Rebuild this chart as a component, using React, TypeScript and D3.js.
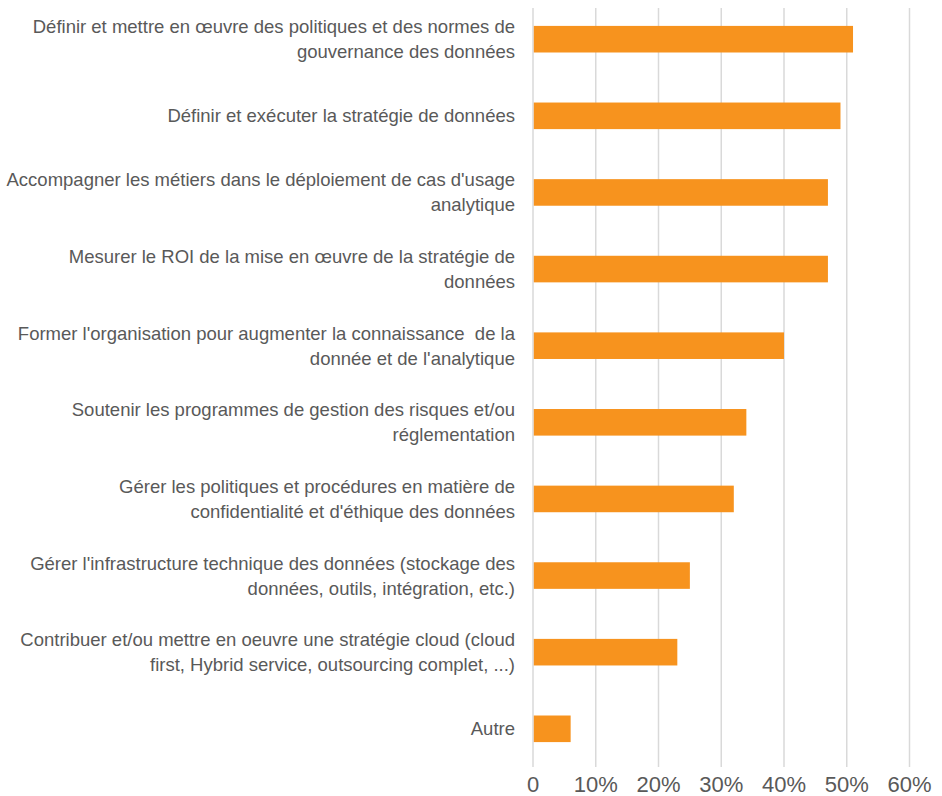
import React from "react";
import * as d3 from "d3";

const categories: string[][] = [
  ["Définir et mettre en œuvre des politiques et des normes de", "gouvernance des données"],
  ["Définir et exécuter la stratégie de données"],
  ["Accompagner les métiers dans le déploiement de cas d'usage", "analytique"],
  ["Mesurer le ROI de la mise en œuvre de la stratégie de", "données"],
  ["Former l'organisation pour augmenter la connaissance  de la", "donnée et de l'analytique"],
  ["Soutenir les programmes de gestion des risques et/ou", "réglementation"],
  ["Gérer les politiques et procédures en matière de", "confidentialité et d'éthique des données"],
  ["Gérer l'infrastructure technique des données (stockage des", "données, outils, intégration, etc.)"],
  ["Contribuer et/ou mettre en oeuvre une stratégie cloud (cloud", "first, Hybrid service, outsourcing complet, ...)"],
  ["Autre"],
];
const values: number[] = [0.51, 0.49, 0.47, 0.47, 0.40, 0.34, 0.32, 0.25, 0.23, 0.06];
const ticks: number[] = [0, 0.1, 0.2, 0.3, 0.4, 0.5, 0.6];
const tickLabels: string[] = ["0", "10%", "20%", "30%", "40%", "50%", "60%"];

const W = 942;
const H = 796;
const FONT = "'Liberation Sans', Arial, Helvetica, sans-serif";
const TEXT = "#595959";

export default function App() {
  const keys = categories.map((_, i) => String(i));
  const x = d3.scaleLinear().domain([0, 0.6]).range([533, 909.5]);
  const y = d3.scaleBand<string>().domain(keys).range([1, 767]).paddingInner(0.653).paddingOuter(0.325);
  const bw = y.bandwidth();
  const lineH = 25;

  return (
    <div style={{ position: "absolute", left: 0, top: 0 }}>
      <svg width={W} height={H} style={{ display: "block" }} fontFamily={FONT}>
        <rect width={W} height={H} fill="#fff" />
        {ticks.map((t, i) => (
          <line key={"g" + i} x1={x(t)} x2={x(t)} y1={8} y2={767} stroke="#d9d9d9" strokeWidth={1.5} />
        ))}
        {values.map((v, i) => (
          <rect key={"b" + i} x={x(0) + 0.8} y={y(keys[i])!} width={x(v) - x(0) - 0.8} height={bw} fill="#F7931E" />
        ))}
        {categories.map((lines, i) => {
          const cy = y(keys[i])! + bw / 2;
          const n = lines.length;
          return (
            <text key={"l" + i} textAnchor="end" fontSize={18.5} fill={TEXT}>
              {lines.map((ln, j) => (
                <tspan key={j} x={515} y={cy + (j - (n - 1) / 2) * lineH} dy="0.35em" style={{ whiteSpace: "pre" }}>
                  {ln}
                </tspan>
              ))}
            </text>
          );
        })}
        {ticks.map((t, i) => (
          <text key={"t" + i} x={x(t)} y={792} textAnchor="middle" fontSize={22} fill={TEXT}>
            {tickLabels[i]}
          </text>
        ))}
      </svg>
    </div>
  );
}
